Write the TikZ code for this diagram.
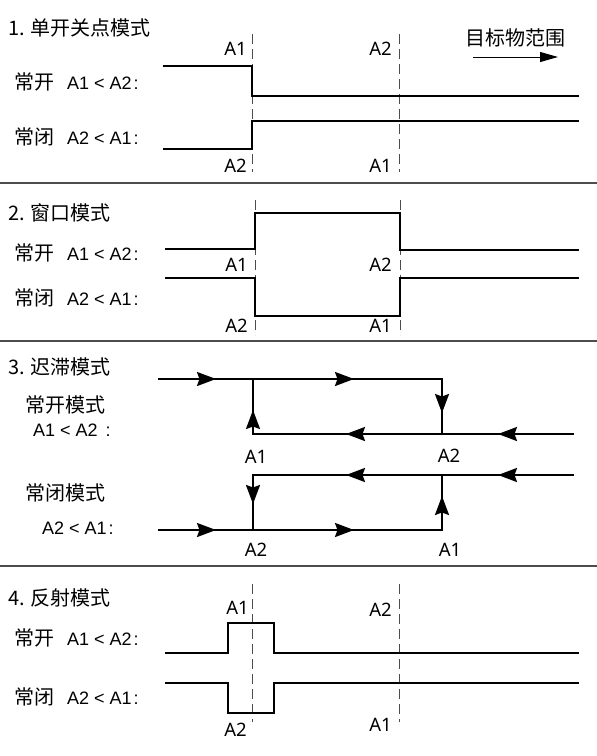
\documentclass[tikz,border=0pt]{standalone}
\usepackage{fontspec}
\setmainfont{Noto Sans}
\newfontfamily\cjk{Noto Sans CJK SC}
\newfontfamily\arial{Liberation Sans}
\usetikzlibrary{arrows.meta}
\newcommand{\cond}[2]{{\cjk\fontsize{20}{24}\selectfont #1}\hspace{13pt}{\arial\fontsize{18}{21}\selectfont #2}}

\begin{document}
\begin{tikzpicture}[x=1pt, y=-1pt,
        wave/.style={line width=2.2pt},
        guide/.style={line width=1pt, black!70, dash pattern=on 10pt off 5pt},
        sep/.style={line width=1.6pt, black!70},
        title/.style={anchor=west, inner sep=0pt, font=\cjk\fontsize{20}{24}\selectfont},
        mode/.style={anchor=west, inner sep=0pt},
        lbl/.style={inner sep=0pt, font=\fontsize{18.5}{22}\selectfont},
        flow/.style={line width=2.2pt, -{Stealth[length=19pt, width=14pt, inset=2.5pt]}},
        targetarrow/.style={line width=1pt, -{Triangle[length=18pt, width=10pt]}}
    ]
        \useasboundingbox (0,0) rectangle (597,756);

        % separators
        \draw[sep] (0,183) -- (597,183);
        \draw[sep] (0,341) -- (597,341);
        \draw[sep] (0,566) -- (597,566);

        % 1. single switch point
        \node[title] (t1) at (8,28) {1. 单开关点模式};
        \node[mode] (no1) at (14,82) {\cond{常开}{A1 < A2\kern2pt:}};
        \node[mode] (nc1) at (14,137) {\cond{常闭}{A2 < A1\kern2pt:}};
        \draw[guide] (252,34) -- (252,172);
        \draw[guide] (399,34) -- (399,172);
        \draw[wave] (163,66) -- (252,66) -- (252,96) -- (579,96);
        \draw[wave] (163,149) -- (252,149) -- (252,121) -- (579,121);
        \node[lbl, anchor=east] (a1u) at (247,49) {A1};
        \node[lbl, anchor=east] (a2u) at (392,49) {A2};
        \node[lbl, anchor=east] (a2d) at (247,166) {A2};
        \node[lbl, anchor=east] (a1d) at (392,166) {A1};
        \node[title, anchor=center] (rng) at (515,38) {目标物范围};
        \coordinate (rs) at (473,57);
        \coordinate (re) at (558,57);
        \draw[targetarrow] (rs) -- (re);

        % 2. window
        \node[title] (t2) at (8,213) {2. 窗口模式};
        \node[mode] (no2) at (14,253) {\cond{常开}{A1 < A2\kern2pt:}};
        \node[mode] (nc2) at (14,298) {\cond{常闭}{A2 < A1\kern2pt:}};
        \draw[guide] (255,200) -- (255,335);
        \draw[guide] (400,200) -- (400,335);
        \draw[wave] (165,249) -- (255,249) -- (255,213) -- (400,213) -- (400,250) -- (579,250);
        \draw[wave] (165,278) -- (255,278) -- (255,316) -- (400,316) -- (400,278) -- (579,278);
        \node[lbl, anchor=east] (w1u) at (248,265) {A1};
        \node[lbl, anchor=east] (w2d) at (248,326) {A2};
        \node[lbl, anchor=east] (w2u) at (392,265) {A2};
        \node[lbl, anchor=east] (w1d) at (392,326) {A1};

        % 3. hysteresis
        \node[title] (t3) at (8,367) {3. 迟滞模式};
        \node[title] (no3) at (25,405) {常开模式};
        \node[mode] (no3c) at (33,430) {\arial\fontsize{18}{21}\selectfont A1 < A2 \kern3pt:};
        \node[title] (nc3) at (25,493) {常闭模式};
        \node[mode] (nc3c) at (42,528) {\arial\fontsize{18}{21}\selectfont A2 < A1\kern2pt:};
        \coordinate (p1) at (158,379);
        \coordinate (p2) at (442,379);
        \coordinate (p3) at (442,434);
        \coordinate (p4) at (574,434);
        \coordinate (p5) at (253,434);
        \coordinate (p6) at (253,379);
        \coordinate (q1) at (158,530);
        \coordinate (q2) at (442,530);
        \coordinate (q3) at (442,475);
        \coordinate (q4) at (574,475);
        \coordinate (q5) at (253,475);
        \coordinate (q6) at (253,530);
        \draw[wave] (p1) -- (p2) -- (p3);
        \draw[wave] (p4) -- (p5) -- (p6);
        \draw[wave] (q1) -- (q2) -- (q3);
        \draw[wave] (q4) -- (q5) -- (q6);
        \draw[flow] (193,379) -- (216,379);
        \draw[flow] (331,379) -- (354,379);
        \draw[flow] (442,390) -- (442,413);
        \draw[flow] (522,434) -- (498,434);
        \draw[flow] (370,434) -- (346,434);
        \draw[flow] (253,433) -- (253,410);
        \draw[flow] (522,475) -- (498,475);
        \draw[flow] (370,475) -- (346,475);
        \draw[flow] (253,480) -- (253,504);
        \draw[flow] (193,530) -- (216,530);
        \draw[flow] (331,530) -- (354,530);
        \draw[flow] (442,520) -- (442,496);
        \node[lbl] (h1) at (256,457) {A1};
        \node[lbl] (h2) at (449,456) {A2};
        \node[lbl] (h3) at (256,550) {A2};
        \node[lbl] (h4) at (450,550) {A1};

        % 4. reflection
        \node[title] (t4) at (8,598) {4. 反射模式};
        \node[mode] (no4) at (14,638) {\cond{常开}{A1 < A2\kern2pt:}};
        \node[mode] (nc4) at (14,697) {\cond{常闭}{A2 < A1\kern2pt:}};
        \draw[guide] (252,584) -- (252,722);
        \draw[guide] (399,584) -- (399,722);
        \draw[wave] (165,653) -- (228,653) -- (228,623) -- (274,623) -- (274,653) -- (579,653);
        \draw[wave] (165,683) -- (228,683) -- (228,713) -- (274,713) -- (274,683) -- (579,683);
        \node[lbl, anchor=east] (r1u) at (249,608) {A1};
        \node[lbl, anchor=east] (r2d) at (247,730) {A2};
        \node[lbl, anchor=east] (r2u) at (392,610) {A2};
        \node[lbl, anchor=east] (r1d) at (392,725) {A1};
    \end{tikzpicture}
\end{document}
